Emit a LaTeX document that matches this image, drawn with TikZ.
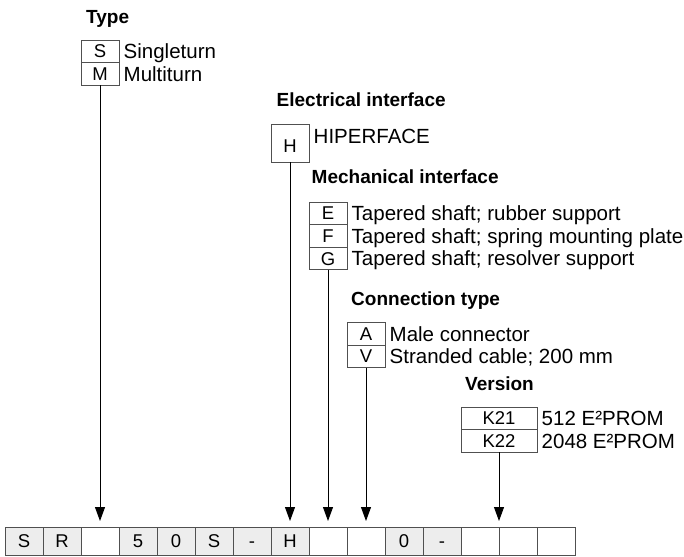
\documentclass[tikz,border=0pt]{standalone}
\usepackage{fontspec}
\setmainfont{Liberation Sans}
\usetikzlibrary{arrows.meta, positioning}
\definecolor{cellgray}{HTML}{EDEDED}
\definecolor{edgegray}{HTML}{505050}

\begin{document}
\begin{tikzpicture}[
        x=1pt, y=-1pt,
        cell/.style={draw=edgegray, fill=white, line width=0.8pt, minimum width=38pt, minimum height=28pt, inner sep=0pt, outer sep=0pt, font=\fontsize{18.5}{20}\selectfont, text height=13pt, text depth=0pt},
        fixed/.style={cell, fill=cellgray},
        key/.style={draw=edgegray, line width=0.8pt, minimum width=38pt, minimum height=22.6pt, inner sep=0pt, outer sep=0pt, font=\fontsize{18.5}{20}\selectfont, text height=13pt, text depth=0pt},
        txt/.style={anchor=west, inner sep=0pt, font=\fontsize{20.5}{22}\selectfont, text height=14.6pt, text depth=0pt},
        head/.style={anchor=west, inner sep=0pt, font=\fontsize{19}{22}\selectfont\bfseries, text height=13.6pt, text depth=0pt},
        arrow/.style={-{Triangle[length=14pt, width=10pt]}, line width=0.9pt}
    ]
        \useasboundingbox (0,0) rectangle (684,556);

        % --- Typenschluessel ---
        \node[fixed] (c0) at (24,541) {S};
        \node[fixed, right=0pt of c0] (c1) {R};
        \node[cell, right=0pt of c1] (c2) {};
        \node[fixed, right=0pt of c2] (c3) {5};
        \node[fixed, right=0pt of c3] (c4) {0};
        \node[fixed, right=0pt of c4] (c5) {S};
        \node[fixed, right=0pt of c5] (c6) {-};
        \node[fixed, right=0pt of c6] (c7) {H};
        \node[cell, right=0pt of c7] (c8) {};
        \node[cell, right=0pt of c8] (c9) {};
        \node[fixed, right=0pt of c9] (c10) {0};
        \node[fixed, right=0pt of c10] (c11) {-};
        \node[cell, right=0pt of c11] (c12) {};
        \node[cell, right=0pt of c12] (c13) {};
        \node[cell, right=0pt of c13] (c14) {};

        % --- Type ---
        \node[head] (typehd) at (86,17) {Type};
        \node[key] (typeS) at (100,51.3) {S};
        \node[key, below=0pt of typeS] (typeM) {M};
        \node[txt, right=4.5pt of typeS] (typeSl) {Singleturn};
        \node[txt, right=4.5pt of typeM] (typeMl) {Multiturn};
        \draw[arrow] (typeM.south) -- ([yshift=6pt]c2.north);

        % --- Electrical interface ---
        \node[head] (elechd) at (276.5,100) {Electrical interface};
        \node[key, minimum height=38pt, text height=20pt] (elecH) at (290,143) {H};
        \node[txt] (elecHl) at ([xshift=4.5pt, yshift=6.5pt]elecH.east) {HIPERFACE};
        \draw[arrow] (elecH.south) -- ([yshift=6pt]c7.north);

        % --- Mechanical interface ---
        \node[head] (mechhd) at (311.5,176.7) {Mechanical interface};
        \node[key] (mechE) at (328,213.3) {E};
        \node[key, below=0pt of mechE] (mechF) {F};
        \node[key, below=0pt of mechF] (mechG) {G};
        \node[txt, right=4.5pt of mechE] (mechEl) {Tapered shaft; rubber support};
        \node[txt, right=4.5pt of mechF] (mechFl) {Tapered shaft; spring mounting plate};
        \node[txt, right=4.5pt of mechG] (mechGl) {Tapered shaft; resolver support};
        \draw[arrow] (mechG.south) -- ([yshift=6pt]c8.north);

        % --- Connection type ---
        \node[head] (connhd) at (351,298.3) {Connection type};
        \node[key] (connA) at (366,333.7) {A};
        \node[key, below=0pt of connA] (connV) {V};
        \node[txt, right=4.5pt of connA] (connAl) {Male connector};
        \node[txt, right=4.5pt of connV] (connVl) {Stranded cable; 200 mm};
        \draw[arrow] (connV.south) -- ([yshift=6pt]c9.north);

        % --- Version ---
        \node[head] (verhd) at (465,383.3) {Version};
        \node[key, minimum width=76pt] (ver1) at (499,418.3) {K21};
        \node[key, minimum width=76pt, below=0pt of ver1] (ver2) {K22};
        \node[txt, right=4.5pt of ver1] (ver1l) {512 E²PROM};
        \node[txt, right=4.5pt of ver2] (ver2l) {2048 E²PROM};
        \draw[arrow] (ver2.south) -- ([yshift=6pt]c12.north east);

    \end{tikzpicture}
\end{document}
